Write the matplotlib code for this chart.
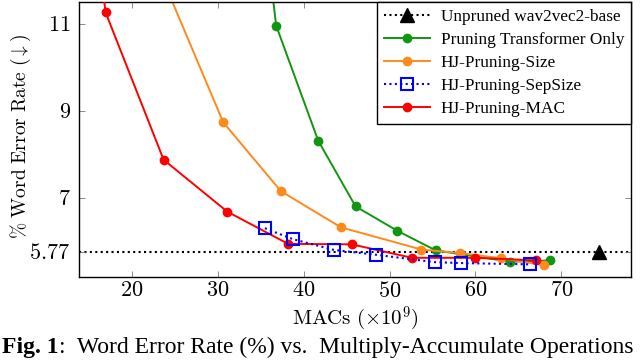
import numpy as np
import matplotlib
matplotlib.use("Agg")
import matplotlib.pyplot as plt

plt.rcParams['font.family'] = ['Liberation Serif', 'DejaVu Serif']
plt.rcParams['mathtext.fontset'] = 'cm'

# data (MACs x1e9, WER %)
base_macs = [74.4]
base_wer = [5.77]

trans_macs = [35.6, 36.81, 41.70, 46.05, 50.91, 55.38, 64.07, 68.72]
trans_wer = [13.0, 10.96, 8.32, 6.81, 6.25, 5.80, 5.54, 5.57]

size_macs = [22.6, 30.65, 37.36, 44.34, 53.72, 58.17, 63.02, 67.98]
size_wer = [12.5, 8.74, 7.16, 6.33, 5.82, 5.74, 5.62, 5.46]

sep_macs = [35.5, 38.72, 43.56, 48.47, 55.27, 58.26, 66.4]
sep_wer = [6.31, 6.06, 5.81, 5.70, 5.53, 5.51, 5.48]

mac_macs = [15.5, 16.97, 23.72, 31.12, 38.21, 45.58, 52.63, 60.0, 67.1]
mac_wer = [13.5, 11.26, 7.88, 6.69, 5.95, 5.94, 5.63, 5.63, 5.57]

x_ticks = [20, 30, 40, 50, 60, 70]
y_ticks = [5.77, 7, 9, 11]
y_tick_labels = ['5.77', '7', '9', '11']

green = '#109610'
orange = '#ff8a1c'
dot = (0, (1, 1.6))

fig = plt.figure(figsize=(6.4, 3.62), dpi=100)
ax = fig.add_axes([0.1234, 0.2348, 0.8626, 0.7597])

ax.axhline(base_wer[0], color='black', ls=dot, lw=1.5, zorder=1)
ax.plot(base_macs, base_wer, color='black', ls=dot, lw=1.5, marker='^',
        ms=10, label='Unpruned wav2vec2-base', zorder=5)
ax.plot(trans_macs, trans_wer, color=green, lw=1.4, marker='o', ms=6,
        label='Pruning Transformer Only')
ax.plot(size_macs, size_wer, color=orange, lw=1.4, marker='o', ms=6,
        label='HJ-Pruning-Size')
ax.plot(sep_macs, sep_wer, color='blue', ls=dot, lw=1.5, marker='s', ms=8,
        mfc='none', mew=1.5, label='HJ-Pruning-SepSize', zorder=4)
ax.plot(mac_macs, mac_wer, color='red', lw=1.4, marker='o', ms=6,
        label='HJ-Pruning-MAC', zorder=3)

ax.set_xlim(13.87, 78.1)
ax.set_ylim(5.19, 11.5)
ax.set_xticks(x_ticks)
ax.set_xticklabels([r'$\mathrm{%d}$' % t for t in x_ticks])
ax.set_yticks(y_ticks)
ax.set_yticklabels([r'$\mathrm{%s}$' % t for t in y_tick_labels])
ax.tick_params(direction='in', top=True, right=True, labelsize=16,
               length=4, width=0.6, color='#777777')
ax.tick_params(axis='y', pad=6)
ax.set_xlabel(r'$\mathrm{MACs}\ (\times 10^9)$', fontsize=15, labelpad=2)
ax.set_ylabel(r'$\%\ \mathrm{Word\ Error\ Rate}\ (\downarrow)$', fontsize=14)
ax.yaxis.set_label_coords(-0.083, 0.51)
for s in ax.spines.values():
    s.set_linewidth(1.0)

leg = ax.legend(loc='upper right', fontsize=12.4, frameon=True, fancybox=False,
                edgecolor='black', framealpha=1, borderaxespad=0,
                handlelength=2.7, handletextpad=0.6, labelspacing=0.4,
                borderpad=0.4)
leg.get_frame().set_linewidth(1.0)

t1 = fig.text(0.003, 0.026, 'Fig. 1', fontsize=17, fontweight='bold', va='baseline')
fig.canvas.draw()
bb = t1.get_window_extent()
fig.text(bb.x1 / 640, 0.026, ':  Word Error Rate (%) vs.  Multiply-Accumulate Operations',
         fontsize=17, va='baseline')

fig.savefig('out.png', dpi=100)
